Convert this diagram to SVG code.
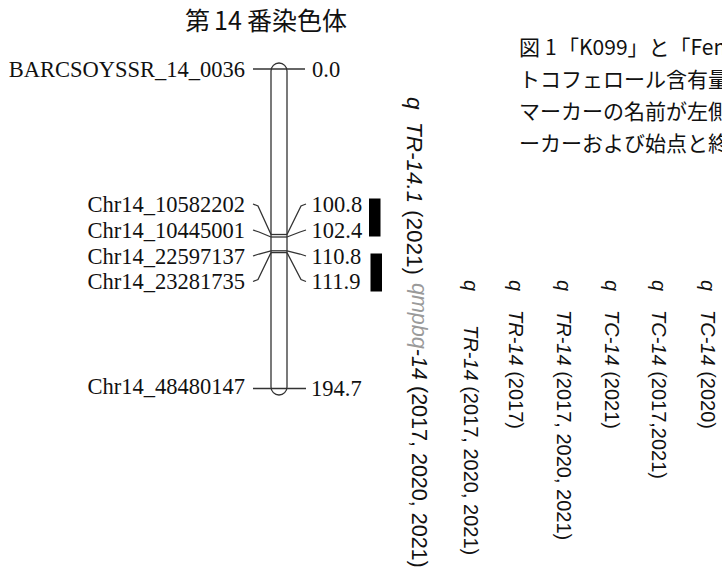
<svg xmlns="http://www.w3.org/2000/svg" width="722" height="571" viewBox="0 0 722 571">
  <style>
    .title { font-family: "Noto Sans CJK JP", "Noto Sans", sans-serif; font-size: 25px; fill: #111; }
    .cap { font-family: "Noto Sans CJK JP", "Noto Sans", sans-serif; font-size: 21px; fill: #111; }
    .mk { font-family: "Liberation Serif", "Times New Roman", serif; font-size: 22.5px; fill: #111; }
    .qtl { font-family: "Liberation Sans", Arial, sans-serif; font-size: 20px; fill: #111; }
    .qtl2 { font-family: "Liberation Sans", Arial, sans-serif; font-size: 21.5px; fill: #111; }
    .qtl3 { font-family: "Liberation Sans", Arial, sans-serif; font-size: 22.5px; fill: #111; }
    .it { font-style: italic; }
    .ghost { fill: #9a9a9a; }
    .ln { fill: none; stroke: #333; stroke-width: 1.3; }
    .bar { fill: #000; }
  </style>

  <!-- chart title -->
  <text class="title" x="185" y="30"><tspan x="185">第</tspan><tspan x="214">14</tspan><tspan x="247">番染色体</tspan></text>

  <!-- figure caption (runs off the right edge) -->
  <g id="caption">
    <text class="cap" y="55"><tspan x="519">図</tspan><tspan x="545">1</tspan><tspan x="558">「K099」と「Fen</tspan></text>
    <text class="cap" x="519" y="87">トコフェロール含有量</text>
    <text class="cap" x="519" y="119">マーカーの名前が左側</text>
    <text class="cap" x="519" y="151">ーカーおよび始点と終</text>
  </g>

  <!-- linkage group body -->
  <g id="chromosome">
    <rect class="ln" x="271" y="63" width="16" height="332" rx="8" ry="8"/>
  </g>

  <!-- marker ticks and leader lines -->
  <g id="connectors">
    <line class="ln" x1="253" y1="69" x2="305" y2="69"/>
    <line class="ln" x1="253" y1="388.5" x2="306" y2="388.5"/>
    <line class="ln" x1="271" y1="234.5" x2="287" y2="234.5"/>
    <line class="ln" x1="271" y1="237" x2="287" y2="237"/>
    <line class="ln" x1="271" y1="250.8" x2="287" y2="250.8"/>
    <line class="ln" x1="271" y1="252.6" x2="287" y2="252.6"/>
    <polyline class="ln" points="253,204 258,206 271,234.5"/>
    <polyline class="ln" points="253,230 259,232 271,237"/>
    <polyline class="ln" points="253,256 259,254 271,250.8"/>
    <polyline class="ln" points="253,281.5 258,279.5 271,252.6"/>
    <polyline class="ln" points="306,204 301,206 287,234.5"/>
    <polyline class="ln" points="306,230 300,232 287,237"/>
    <polyline class="ln" points="306,256 300,254 287,250.8"/>
    <polyline class="ln" points="306,281.5 301,279.5 287,252.6"/>
  </g>

  <!-- marker names -->
  <g id="marker-names" text-anchor="end">
    <text class="mk" x="245" y="77">BARCSOYSSR_14_0036</text>
    <text class="mk" x="245" y="211.5">Chr14_10582202</text>
    <text class="mk" x="245" y="237.5">Chr14_10445001</text>
    <text class="mk" x="245" y="263.5">Chr14_22597137</text>
    <text class="mk" x="245" y="289">Chr14_23281735</text>
    <text class="mk" x="245" y="393.5">Chr14_48480147</text>
  </g>

  <!-- positions in cM -->
  <g id="positions">
    <text class="mk" x="312" y="77">0.0</text>
    <text class="mk" x="311.5" y="211.5">100.8</text>
    <text class="mk" x="311.5" y="237.5">102.4</text>
    <text class="mk" x="311.5" y="263.5">110.8</text>
    <text class="mk" x="311.5" y="289">111.9</text>
    <text class="mk" x="311" y="396">194.7</text>
  </g>

  <!-- QTL intervals -->
  <g id="qtl-bars">
    <rect class="bar" x="369" y="198.5" width="11.5" height="38"/>
    <rect class="bar" x="370.5" y="253.5" width="11.5" height="38"/>
  </g>

  <!-- QTL labels, read top to bottom -->
  <g id="qtl-labels">
    <g transform="translate(407,97) rotate(90)">
      <text class="qtl3 it" x="0" y="0">q</text>
      <text class="qtl3" x="25" y="0"><tspan class="it">TR-14.1</tspan><tspan x="113">(2021)</tspan></text>
    </g>
    <g transform="translate(412,283) rotate(90)">
      <text class="qtl2" x="0" y="0"><tspan class="it ghost">qmpbq</tspan><tspan class="it">-14</tspan><tspan x="103">(2017, 2020, 2021)</tspan></text>
    </g>
    <g transform="translate(463.5,280) rotate(90)">
      <text class="qtl it" x="0" y="0">q</text>
      <text class="qtl" x="45" y="0"><tspan class="it">TR-14</tspan> (2017, 2020, 2021)</text>
    </g>
    <g transform="translate(508.5,280) rotate(90)">
      <text class="qtl it" x="0" y="0">q</text>
      <text class="qtl" x="30" y="0"><tspan class="it">TR-14</tspan> (2017)</text>
    </g>
    <g transform="translate(557,280) rotate(90)">
      <text class="qtl it" x="0" y="0">q</text>
      <text class="qtl" x="30" y="0"><tspan class="it">TR-14</tspan> (2017, 2020, 2021)</text>
    </g>
    <g transform="translate(604.5,280) rotate(90)">
      <text class="qtl it" x="0" y="0">q</text>
      <text class="qtl" x="30" y="0"><tspan class="it">TC-14</tspan> (2021)</text>
    </g>
    <g transform="translate(652,280) rotate(90)">
      <text class="qtl it" x="0" y="0">q</text>
      <text class="qtl" x="30" y="0"><tspan class="it">TC-14</tspan> (2017,2021)</text>
    </g>
    <g transform="translate(700.5,280) rotate(90)">
      <text class="qtl it" x="0" y="0">q</text>
      <text class="qtl" x="30" y="0"><tspan class="it">TC-14</tspan> (2020)</text>
    </g>
  </g>
</svg>
